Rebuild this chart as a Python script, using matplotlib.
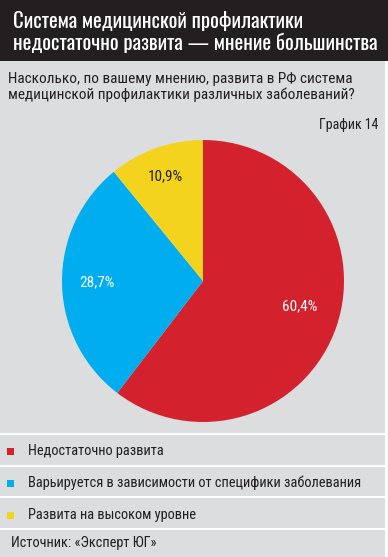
import numpy as np
import matplotlib.pyplot as plt
from matplotlib.patches import Rectangle

# data
labels = ["Недостаточно развита",
          "Варьируется в зависимости от специфики заболевания",
          "Развита на высоком уровне"]
values = [60.4, 28.7, 10.9]
colors = ["#d3222d", "#00aeef", "#f4d31e"]
pct_colors = ["white", "white", "#231f20"]
pct_dist = [0.71, 0.75, 0.79]

title = "Система медицинской профилактики\nнедостаточно развита — мнение большинства"
question = "Насколько, по вашему мнению, развита в РФ система\nмедицинской профилактики различных заболеваний?"
chart_no = "График 14"
source = "Источник: «Эксперт ЮГ»"

W, H = 388, 557
fnt = ["Roboto Condensed", "DejaVu Sans"]
fnt_title = ["Oswald", "Roboto Condensed", "DejaVu Sans"]

fig = plt.figure(figsize=(W / 100, H / 100), dpi=100)
fig.patch.set_facecolor("white")

# background in pixel coords
bg = fig.add_axes([0, 0, 1, 1])
bg.set_xlim(0, W)
bg.set_ylim(H, 0)
bg.axis("off")
bg.add_patch(Rectangle((0, 0), 385, H, color="#dcddde", lw=0))
bg.add_patch(Rectangle((0, 0), W, 61, color="#231f20", lw=0))
for y in [434, 466, 497, 529]:
    bg.plot([0, 385], [y, y], color="white", lw=1.5)

bg.text(13, 32, title, color="white", fontsize=15, family=fnt_title,
        va="center", ha="left", linespacing=1.08)
bg.text(8, 87, question, color="#231f20", fontsize=11, family=fnt,
        va="center", ha="left", linespacing=1.1)
bg.text(378, 125, chart_no, color="#231f20", fontsize=10, family=fnt,
        va="center", ha="right")

rows = [451, 483, 515]
for y, lab, c in zip(rows, labels, colors):
    bg.add_patch(Rectangle((7, y - 3), 7, 7, color=c, lw=0))
    bg.text(28, y, lab, color="#231f20", fontsize=10.4, family=fnt, va="center", ha="left")
bg.text(11, 543, source, color="#231f20", fontsize=10.4, family=fnt, va="center", ha="left")

# pie
cx, cy, r = 203, 281, 141
ax = fig.add_axes([(cx - r) / W, (H - cy - r) / H, 2 * r / W, 2 * r / H])
wedges, _, autotexts = ax.pie(values, colors=colors, startangle=90, counterclock=False,
                              autopct=lambda p: f"{p:.1f}%".replace(".", ","),
                              wedgeprops=dict(linewidth=0))
for w, t, c, d in zip(wedges, autotexts, pct_colors, pct_dist):
    mid = np.deg2rad((w.theta1 + w.theta2) / 2 + (4 if c == "white" and d < 0.72 else 0))
    t.set_position((d * np.cos(mid), d * np.sin(mid)))
    t.set_color(c)
    t.set_fontsize(11)
    t.set_family(fnt)
ax.set_xlim(-1, 1)
ax.set_ylim(-1, 1)
ax.set_aspect("equal")

fig.savefig("out.png", dpi=100, facecolor=fig.get_facecolor())
